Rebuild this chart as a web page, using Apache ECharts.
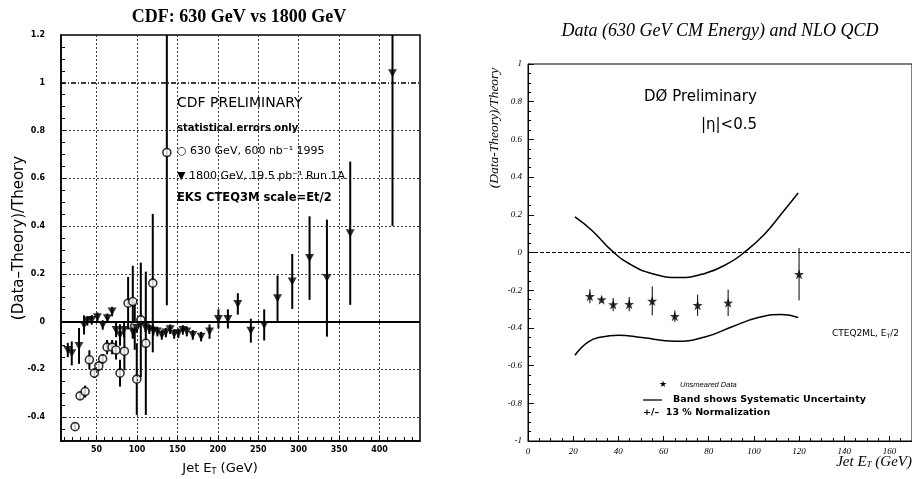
<!DOCTYPE html>
<html><head><meta charset="utf-8">
<script src="https://cdn.jsdelivr.net/npm/echarts@6/dist/echarts.min.js"></script>
<style>html,body{margin:0;padding:0;background:#fff}#c{width:912px;height:479px}</style>
</head><body><div id="c"></div>
<script>
// ---- Left panel (CDF) ----
const cdf630E   = [23.4, 29.6, 35.8, 41.1, 47.3, 52.7, 57.6, 63.0, 69.2, 74.1, 79.0, 84.4, 89.0, 94.8, 97.2, 99.7, 104.7, 110.9, 119.5, 136.9];
const cdf630V   = [-0.44, -0.311, -0.293, -0.16, -0.216, -0.186, -0.156, -0.107, -0.107, -0.119, -0.216, -0.124, 0.077, 0.084, -0.018, -0.241, 0.007, -0.091, 0.161, 0.708];
const cdf630Err = [0.01, 0.015, 0.025, 0.04, 0.02, 0.02, 0.02, 0.03, 0.03, 0.04, 0.056, 0.08, 0.11, 0.15, 0.1, 0.15, 0.24, 0.3, 0.29, 0.64];

const cdf1800E   = [14.4, 19.3, 28.3, 34.5, 38.6, 44.0, 51.0, 57.6, 63.4, 69.2, 74.1, 79.0, 84.0, 94.8, 99.7, 110.4, 115.3, 120.3, 125.2, 130.7, 135.6, 141.0, 146.0, 151.2, 156.7, 161.6, 169.0, 179.3, 189.7, 200.7, 212.4, 224.7, 240.8, 257.3, 273.8, 292.0, 313.4, 334.9, 363.7, 416.0];
const cdf1800V   = [-0.119, -0.133, -0.102, -0.014, 0.003, 0.007, 0.018, -0.014, 0.014, 0.042, -0.035, -0.056, -0.035, -0.042, -0.027, -0.024, -0.032, -0.038, -0.042, -0.056, -0.046, -0.032, -0.052, -0.049, -0.035, -0.042, -0.056, -0.063, -0.042, 0.011, 0.011, 0.074, -0.038, -0.014, 0.098, 0.168, 0.266, 0.182, 0.37, 1.04];
const cdf1800Err = [0.03, 0.05, 0.075, 0.04, 0.02, 0.02, 0.02, 0.02, 0.02, 0.02, 0.03, 0.045, 0.03, 0.03, 0.02, 0.02, 0.02, 0.02, 0.02, 0.02, 0.02, 0.02, 0.02, 0.02, 0.02, 0.02, 0.02, 0.02, 0.03, 0.04, 0.04, 0.045, 0.05, 0.065, 0.095, 0.115, 0.175, 0.245, 0.3, 0.64];

const cdfXTicks  = [10,20,30,40,50,60,70,80,90,100,110,120,130,140,150,160,170,180,190,200,210,220,230,240,250,260,270,280,290,300,310,320,330,340,350,360,370,380,390,400,410,420,430,440];
const cdfXLabels = [50,100,150,200,250,300,350,400];
const cdfXGrid   = [50,100,150,200,250,300,350,400];
const cdfYTicks  = [-0.45,-0.4,-0.35,-0.3,-0.25,-0.2,-0.15,-0.1,-0.05,0,0.05,0.1,0.15,0.2,0.25,0.3,0.35,0.4,0.45,0.5,0.55,0.6,0.65,0.7,0.75,0.8,0.85,0.9,0.95,1,1.05,1.1,1.15];
const cdfYLabels = [-0.4,-0.2,0,0.2,0.4,0.6,0.8,1,1.2];
const cdfYGrid   = [-0.4,-0.2,0.2,0.4,0.6,0.8];

// ---- Right panel (D0) ----
const d0E   = [27.4, 32.6, 37.7, 44.8, 55.0, 65.0, 75.1, 88.6, 120.0];
const d0V   = [-0.232, -0.25, -0.276, -0.274, -0.257, -0.338, -0.28, -0.267, -0.115];
const d0Err = [0.037, 0.015, 0.035, 0.038, 0.077, 0.03, 0.056, 0.07, 0.139];

const bandUpE = [20.8, 28.2, 37.7, 45.9, 54.7, 66.5, 78.3, 88.6, 96.0, 104.9, 112.3, 119.6];
const bandUpV = [0.189, 0.118, 0.003, -0.067, -0.111, -0.133, -0.111, -0.058, 0.003, 0.1, 0.207, 0.316];
const bandLoE = [20.8, 26.7, 32.6, 40.0, 50.3, 65.0, 78.3, 90.1, 101.9, 112.3, 119.6];
const bandLoV = [-0.545, -0.474, -0.448, -0.439, -0.451, -0.471, -0.448, -0.395, -0.345, -0.329, -0.345];

const STAR = 'path://M0,-10L2.35,-3.24L9.51,-3.09L3.8,1.24L5.88,8.09L0,4L-5.88,8.09L-3.8,1.24L-9.51,-3.09L-2.35,-3.24Z';

function errData(E, V, Err) { return E.map((e, i) => [e, V[i] - Err[i], V[i] + Err[i]]); }
function errBar(width) {
  return function (params, api) {
    const cs = params.coordSys;
    const p1 = api.coord([api.value(0), api.value(1)]);
    const p2 = api.coord([api.value(0), api.value(2)]);
    const clampY = y => Math.max(cs.y, Math.min(cs.y + cs.height, y));
    return { type: 'line', shape: { x1: p1[0], y1: clampY(p1[1]), x2: p2[0], y2: clampY(p2[1]) },
             style: { stroke: '#000', lineWidth: width } };
  };
}
const pairs = (E, V) => E.map((e, i) => [e, V[i]]);

const sans = '"DejaVu Sans", sans-serif';
const serif = '"Liberation Serif", serif';
const gridDot = { color: '#222', type: [2, 2], width: 0.9 };

const option = {
  animation: false,
  backgroundColor: '#fff',
  grid: [
    { left: 61, top: 35, width: 359, height: 406, show: true, borderColor: '#000', borderWidth: 1.5, containLabel: false },
    { left: 528, top: 64, width: 384, height: 377, show: true, borderColor: '#000', borderWidth: 1, containLabel: false }
  ],
  xAxis: [
    { type: 'value', gridIndex: 0, min: 6, max: 450,
      axisLine: { onZero: false, lineStyle: { color: '#000', width: 1.5 } },
      axisTick: { inside: true, length: 4, customValues: cdfXTicks, lineStyle: { color: '#000' } },
      axisLabel: { customValues: cdfXLabels, color: '#000', fontSize: 8, fontWeight: 'bold', fontFamily: sans, margin: 5 },
      splitLine: { show: false } },
    { type: 'value', gridIndex: 1, min: 0, max: 170, interval: 20,
      axisLine: { onZero: false, lineStyle: { color: '#000', width: 1 } },
      axisTick: { inside: true, length: 5, lineStyle: { color: '#000' } },
      minorTick: { show: true, splitNumber: 4, length: 3, lineStyle: { color: '#000' } },
      axisLabel: { color: '#000', fontSize: 9, fontStyle: 'italic', fontFamily: serif, margin: 6, showMaxLabel: false },
      splitLine: { show: false } }
  ],
  yAxis: [
    { type: 'value', gridIndex: 0, min: -0.5, max: 1.2,
      axisLine: { onZero: false, lineStyle: { color: '#000', width: 1.5 } },
      axisTick: { inside: true, length: 4, customValues: cdfYTicks, lineStyle: { color: '#000' } },
      axisLabel: { customValues: cdfYLabels, color: '#000', fontSize: 8, fontWeight: 'bold', fontFamily: sans, margin: 16 },
      splitLine: { show: false } },
    { type: 'value', gridIndex: 1, min: -1, max: 1, interval: 0.2,
      axisLine: { onZero: false, lineStyle: { color: '#000', width: 1 } },
      axisTick: { inside: true, length: 6, lineStyle: { color: '#000' } },
      minorTick: { show: true, splitNumber: 4, length: 3, lineStyle: { color: '#000' } },
      axisLabel: { color: '#000', fontSize: 9, fontStyle: 'italic', fontFamily: serif, margin: 6 },
      splitLine: { show: false } }
  ],
  series: [
    // grid lines & reference lines (left)
    { type: 'scatter', xAxisIndex: 0, yAxisIndex: 0, data: [], silent: true,
      markLine: { symbol: 'none', silent: true, animation: false, label: { show: false },
        data: [
          ...cdfXGrid.map(v => ({ xAxis: v, lineStyle: gridDot })),
          ...cdfYGrid.map(v => ({ yAxis: v, lineStyle: gridDot })),
          { yAxis: 0, lineStyle: { color: '#000', type: 'solid', width: 2.2 } },
          { yAxis: 1, lineStyle: { color: '#000', type: [5, 2, 1, 2], width: 1.5 } }
        ] } },
    { type: 'custom', xAxisIndex: 0, yAxisIndex: 0, renderItem: errBar(2), data: errData(cdf630E, cdf630V, cdf630Err), z: 3 },
    { type: 'custom', xAxisIndex: 0, yAxisIndex: 0, renderItem: errBar(2), data: errData(cdf1800E, cdf1800V, cdf1800Err), z: 3 },
    { name: '630 GeV', type: 'scatter', xAxisIndex: 0, yAxisIndex: 0, data: pairs(cdf630E, cdf630V), z: 4,
      symbol: 'circle', symbolSize: 8, itemStyle: { color: '#fff', borderColor: '#000', borderWidth: 1.6 } },
    { name: '1800 GeV', type: 'scatter', xAxisIndex: 0, yAxisIndex: 0, data: pairs(cdf1800E, cdf1800V), z: 4,
      symbol: 'triangle', symbolRotate: 180, symbolSize: [9, 8], itemStyle: { color: '#000' } },
    // right panel
    { type: 'scatter', xAxisIndex: 1, yAxisIndex: 1, data: [], silent: true,
      markLine: { symbol: 'none', silent: true, animation: false, label: { show: false },
        data: [{ yAxis: 0, lineStyle: { color: '#000', type: 'dashed', width: 1 } }] } },
    { type: 'line', xAxisIndex: 1, yAxisIndex: 1, data: pairs(bandUpE, bandUpV), smooth: true, showSymbol: false, symbol: 'none',
      lineStyle: { color: '#000', width: 1.5 } },
    { type: 'line', xAxisIndex: 1, yAxisIndex: 1, data: pairs(bandLoE, bandLoV), smooth: true, showSymbol: false, symbol: 'none',
      lineStyle: { color: '#000', width: 1.5 } },
    { type: 'custom', xAxisIndex: 1, yAxisIndex: 1, renderItem: errBar(1), data: errData(d0E, d0V, d0Err), z: 3 },
    { type: 'scatter', xAxisIndex: 1, yAxisIndex: 1, data: pairs(d0E, d0V), symbol: STAR, symbolSize: 10, z: 4,
      itemStyle: { color: '#000' } }
  ],
  graphic: [
    // left texts
    { type: 'text', x: 239, y: 17, style: { text: 'CDF: 630 GeV vs 1800 GeV', font: 'bold 18px "Liberation Serif"', fill: '#000', align: 'center', verticalAlign: 'middle' } },
    { type: 'text', x: 19, y: 238, rotation: Math.PI / 2, style: { text: '(Data\u2013Theory)/Theory', font: '15px "DejaVu Sans"', fill: '#000', align: 'center', verticalAlign: 'middle' } },
    { type: 'text', x: 220, y: 469, style: { text: '{a|Jet E}{s|T}{a| (GeV)}', fill: '#000', align: 'center', verticalAlign: 'middle',
        rich: { a: { font: '13px "DejaVu Sans"', fill: '#000' }, s: { font: '8px "DejaVu Sans"', fill: '#000', verticalAlign: 'bottom', padding: [6, 0, 0, 0] } } } },
    { type: 'text', x: 177, y: 103, style: { text: 'CDF PRELIMINARY', font: '14px "DejaVu Sans"', fill: '#000', verticalAlign: 'middle' } },
    { type: 'text', x: 177, y: 128, style: { text: 'statistical errors only', font: 'bold 10px "DejaVu Sans"', fill: '#000', verticalAlign: 'middle' } },
    { type: 'text', x: 177, y: 151, style: { text: '\u25CB 630 GeV, 600 nb\u207B\u00B9 1995', font: '11px "DejaVu Sans"', fill: '#000', verticalAlign: 'middle' } },
    { type: 'text', x: 177, y: 176, style: { text: '\u25BC 1800 GeV, 19.5 pb\u207B\u00B9 Run 1A', font: '11px "DejaVu Sans"', fill: '#000', verticalAlign: 'middle' } },
    { type: 'text', x: 177, y: 198, style: { text: 'EKS CTEQ3M scale=Et/2', font: 'bold 11.5px "DejaVu Sans"', fill: '#000', verticalAlign: 'middle' } },
    // right texts
    { type: 'text', x: 720, y: 31, style: { text: 'Data (630 GeV CM Energy) and NLO QCD', font: 'italic 18px "Liberation Serif"', fill: '#000', align: 'center', verticalAlign: 'middle' } },
    { type: 'text', x: 494, y: 128, rotation: Math.PI / 2, style: { text: '(Data-Theory)/Theory', font: 'italic 13.5px "Liberation Serif"', fill: '#000', align: 'center', verticalAlign: 'middle' } },
    { type: 'text', x: 912, y: 462, style: { text: '{a|Jet E}{s|T}{a| (GeV)}', fill: '#000', align: 'right', verticalAlign: 'middle',
        rich: { a: { font: 'italic 15px "Liberation Serif"', fill: '#000' }, s: { font: 'italic 9px "Liberation Serif"', fill: '#000', padding: [6, 0, 0, 0] } } } },
    { type: 'text', x: 644, y: 97, style: { text: 'D\u00D8 Preliminary', font: '15px "DejaVu Sans"', fill: '#000', verticalAlign: 'middle' } },
    { type: 'text', x: 701, y: 125, style: { text: '|\u03B7|<0.5', font: '15px "DejaVu Sans"', fill: '#000', verticalAlign: 'middle' } },
    { type: 'text', x: 832, y: 334, style: { text: '{a|CTEQ2ML, E}{s|T}{a|/2}', fill: '#000', verticalAlign: 'middle',
        rich: { a: { font: '9px "DejaVu Sans"', fill: '#000' }, s: { font: '6px "DejaVu Sans"', fill: '#000', padding: [4, 0, 0, 0] } } } },
    { type: 'text', x: 663, y: 385, style: { text: '\u2605', font: '9px "DejaVu Sans"', fill: '#000', align: 'center', verticalAlign: 'middle' } },
    { type: 'text', x: 680, y: 385, style: { text: 'Unsmeared Data', font: 'italic 7.5px "Liberation Sans"', fill: '#000', verticalAlign: 'middle' } },
    { type: 'line', shape: { x1: 643, y1: 400, x2: 662, y2: 400 }, style: { stroke: '#000', lineWidth: 1.3 } },
    { type: 'text', x: 673, y: 400, style: { text: 'Band shows Systematic Uncertainty', font: 'bold 9.5px "DejaVu Sans"', fill: '#000', verticalAlign: 'middle' } },
    { type: 'text', x: 643, y: 413, style: { text: '+/\u2013  13 % Normalization', font: 'bold 9.5px "DejaVu Sans"', fill: '#000', verticalAlign: 'middle' } }
  ]
};
const chart = echarts.init(document.getElementById('c'));
chart.setOption(option);
</script></body></html>
